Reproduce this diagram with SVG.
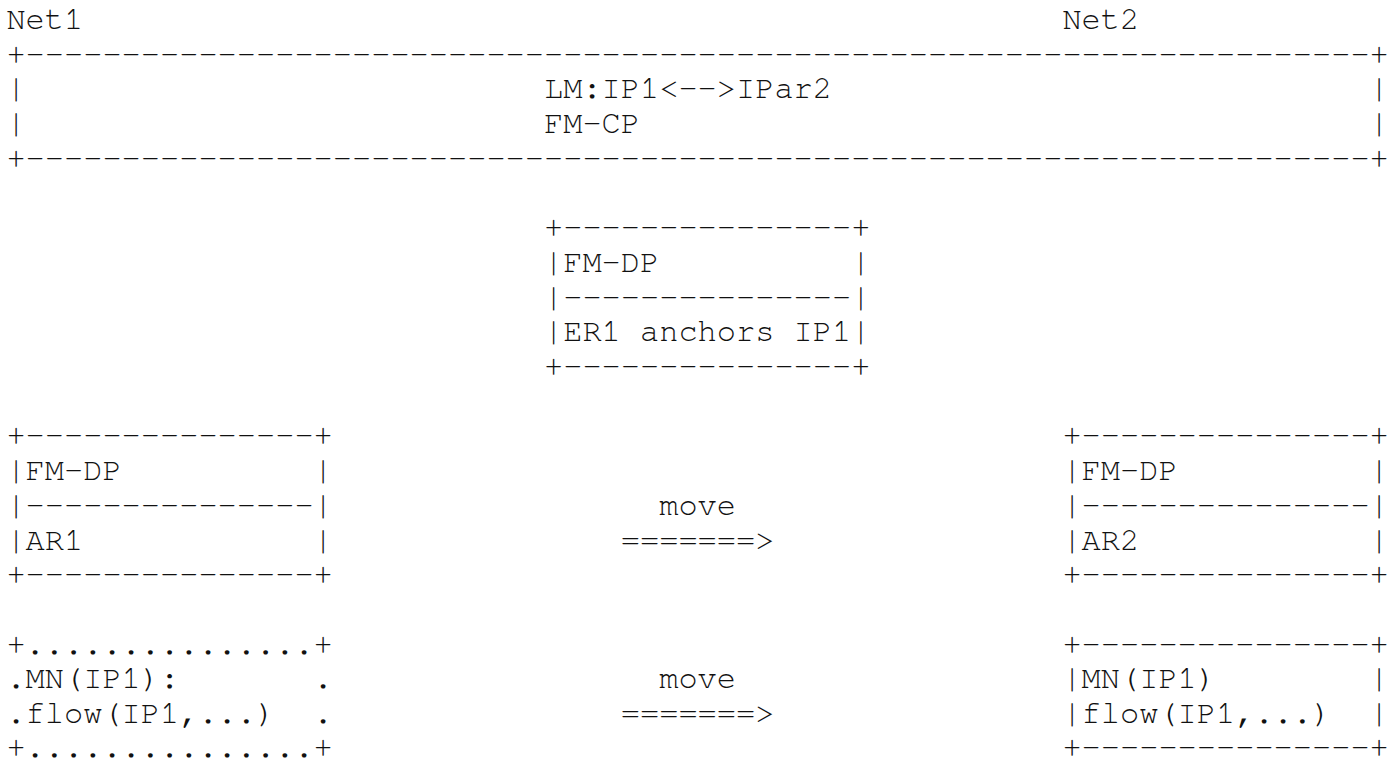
<svg xmlns="http://www.w3.org/2000/svg" width="1395" height="758" viewBox="0 0 1395 758">
<style>
text { font-family: "Nimbus Mono PS", "FreeMono", "Courier New", "Liberation Mono", monospace; font-size: 32px; fill: #111; }
</style>
<rect width="1395" height="758" fill="#fff"/>
<g id="net-labels">
<text x="6.4" y="29">Net1</text>
<text x="1062.4" y="29">Net2</text>
</g>
<g id="fm-cp">
<text x="6.4" y="63.7">+----------------------------------------------------------------------+</text>
<text x="6.4" y="98.4">|</text><text x="544" y="98.4">LM:IP1&lt;--&gt;IPar2</text><text x="1369.6" y="98.4">|</text>
<text x="6.4" y="133.1">|</text><text x="544" y="133.1">FM-CP</text><text x="1369.6" y="133.1">|</text>
<text x="6.4" y="167.8">+----------------------------------------------------------------------+</text>
</g>
<g id="er1">
<text x="544" y="237.2">+---------------+</text>
<text x="544" y="271.9">|FM-DP</text><text x="851.2" y="271.9">|</text>
<text x="544" y="306.6">|---------------|</text>
<text x="544" y="341.3">|ER1 anchors IP1|</text>
<text x="544" y="376">+---------------+</text>
</g>
<g id="ar1">
<text x="6.4" y="445.4">+---------------+</text>
<text x="6.4" y="480.1">|FM-DP</text><text x="313.6" y="480.1">|</text>
<text x="6.4" y="514.8">|---------------|</text>
<text x="6.4" y="549.5">|AR1</text><text x="313.6" y="549.5">|</text>
<text x="6.4" y="584.2">+---------------+</text>
</g>
<g id="ar2">
<text x="1062.4" y="445.4">+---------------+</text>
<text x="1062.4" y="480.1">|FM-DP</text><text x="1369.6" y="480.1">|</text>
<text x="1062.4" y="514.8">|---------------|</text>
<text x="1062.4" y="549.5">|AR2</text><text x="1369.6" y="549.5">|</text>
<text x="1062.4" y="584.2">+---------------+</text>
</g>
<g id="mn-net1">
<text x="6.4" y="653.6">+...............+</text>
<text x="6.4" y="688.3">.MN(IP1):</text><text x="313.6" y="688.3">.</text>
<text x="6.4" y="723">.flow(IP1,...)</text><text x="313.6" y="723">.</text>
<text x="6.4" y="756.5">+...............+</text>
</g>
<g id="mn-net2">
<text x="1062.4" y="653.6">+---------------+</text>
<text x="1062.4" y="688.3">|MN(IP1)</text><text x="1369.6" y="688.3">|</text>
<text x="1062.4" y="723">|flow(IP1,...)</text><text x="1369.6" y="723">|</text>
<text x="1062.4" y="756.5">+---------------+</text>
</g>
<g id="connectors">
<text x="659.2" y="514.8">move</text>
<text x="620.8" y="549.5">=======&gt;</text>
<text x="659.2" y="688.3">move</text>
<text x="620.8" y="723">=======&gt;</text>
</g>
</svg>
